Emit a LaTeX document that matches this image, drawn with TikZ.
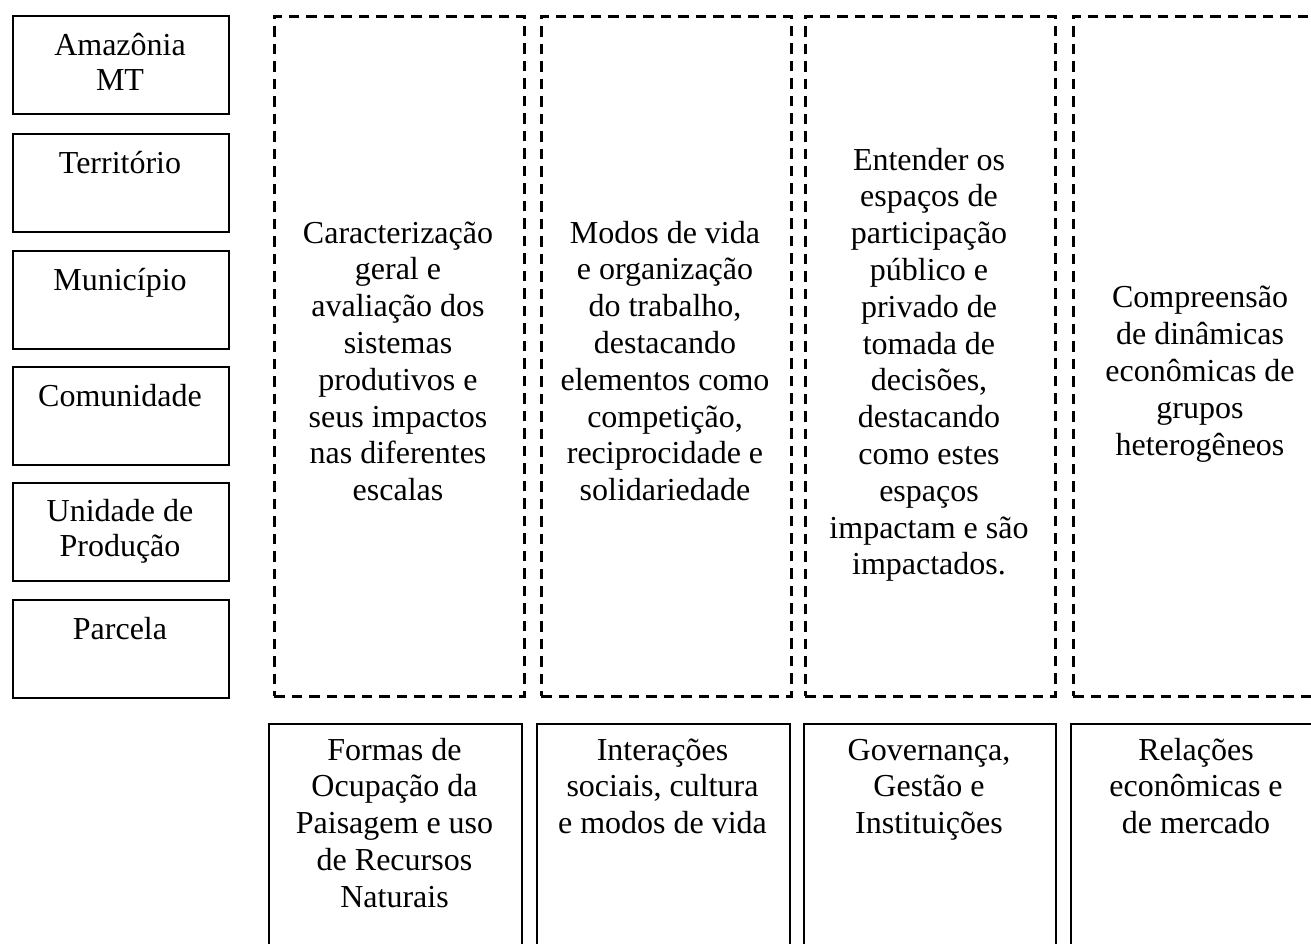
\documentclass[tikz,border=0pt]{standalone}
\usepackage{fontspec}
\setmainfont{Liberation Serif}
\begin{document}
\begin{tikzpicture}[x=1pt,y=-1pt,
  lvl/.style={draw, line width=2.4pt, minimum width=216pt, minimum height=98pt, anchor=north west, inner sep=0pt},
  dbox/.style={draw, line width=2.5pt, dash pattern=on 10.5pt off 7pt, minimum width=250pt, minimum height=680pt, anchor=north west, inner sep=0pt},
  sbox/.style={draw, line width=2.4pt, minimum width=252pt, minimum height=240pt, anchor=north west, inner sep=0pt},
  txt/.style={inner sep=0pt, align=center, font=\fontsize{32}{36.8}\selectfont, anchor=north}]
\useasboundingbox (0,0) rectangle (1311,943);
\clip (0,0) rectangle (1311,943);
% left level boxes
\node[lvl] (l1) at (12,15) {};
\node[lvl] (l2) at (12,133) {};
\node[lvl] (l3) at (12,250) {};
\node[lvl] (l4) at (12,366) {};
\node[lvl] (l5) at (12,482) {};
\node[lvl] (l6) at (12,599) {};
\node[txt, font=\fontsize{32}{35}\selectfont] (lt1) at (120,30.5) {\strut Amazônia\\MT};
\node[txt] (lt2) at (120,147.2) {\strut Território};
\node[txt] (lt3) at (120,264.2) {\strut Município};
\node[txt] (lt4) at (120,380.2) {\strut Comunidade};
\node[txt, font=\fontsize{32}{35}\selectfont] (lt5) at (120,497) {\strut Unidade de\\Produção};
\node[txt] (lt6) at (120,613.2) {\strut Parcela};
% dashed boxes
\node[dbox] (d1) at (273,15) {};
\node[dbox] (d2) at (540,15) {};
\node[dbox] (d3) at (804,15) {};
\node[dbox] (d4) at (1072,15) {};
\node[txt] (dt1) at (398,217.2) {\strut Caracterização\\geral e\\avaliação dos\\sistemas\\produtivos e\\seus impactos\\nas diferentes\\escalas};
\node[txt] (dt2) at (665,217.2) {\strut Modos de vida\\e organização\\do trabalho,\\destacando\\elementos como\\competição,\\reciprocidade e\\solidariedade};
\node[txt] (dt3) at (929,144.2) {\strut Entender os\\espaços de\\participação\\público e\\privado de\\tomada de\\decisões,\\destacando\\como estes\\espaços\\impactam e são\\impactados.};
\node[txt] (dt4) at (1200,282) {\strut Compreensão\\de dinâmicas\\econômicas de\\grupos\\heterogêneos};
% bottom solid boxes
\node[sbox, minimum width=253pt] (s1) at (268,723) {};
\node[sbox, minimum width=253pt] (s2) at (536,723) {};
\node[sbox] (s3) at (803,723) {};
\node[sbox] (s4) at (1070,723) {};
\node[txt] (st1) at (394.5,734.2) {\strut Formas de\\Ocupação da\\Paisagem e uso\\de Recursos\\Naturais};
\node[txt] (st2) at (662.5,734.2) {\strut Interações\\sociais, cultura\\e modos de vida};
\node[txt] (st3) at (929,734.2) {\strut Governança,\\Gestão e\\Instituições};
\node[txt] (st4) at (1196,734.2) {\strut Relações\\econômicas e\\de mercado};
\end{tikzpicture}
\end{document}
